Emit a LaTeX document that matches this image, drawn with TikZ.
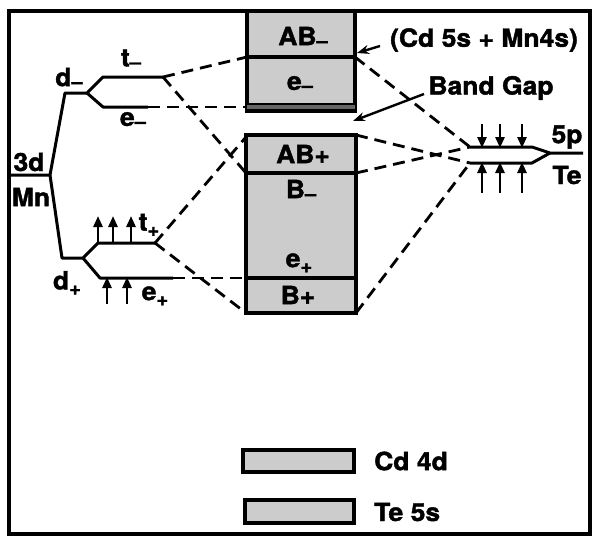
\documentclass[tikz,border=0pt]{standalone}
\usepackage{fontspec}
\setmainfont{TeX Gyre Heros}[FakeStretch=1.06,FakeBold=1.6]
\usetikzlibrary{arrows.meta}
\newcommand\lowsub[1]{\raisebox{-0.22em}{\fontsize{19}{19}\selectfont #1}}
\newcommand\lowmin{\raisebox{-0.08em}{\fontsize{19}{19}\selectfont –}}
\begin{document}
\begin{tikzpicture}[x=1pt,y=-1pt,
  lvl/.style={line width=3pt, line join=round},
  dsh/.style={line width=2.8pt, dash pattern=on 12pt off 7pt},
  band/.style={draw, line width=3.4pt, fill=black!20},
  lbl/.style={font=\fontsize{25}{27}\selectfont\bfseries, inner sep=1pt},
  spin/.style={line width=2.6pt, -{Triangle[length=11pt,width=9pt]}},
  ptr/.style={line width=2.4pt, -{Stealth[length=12pt,width=9pt]}}]
\useasboundingbox (0,0) rectangle (595,536);
\draw[line width=3.4pt] (9,11) rectangle (590,534);
% bands
\draw[band] (247,11) rectangle (355,111);
\fill[black!60] (247,104) rectangle (355,111);
\draw[line width=3.4pt] (247,111) -- (355,111);
\draw[line width=2.4pt] (247,104) -- (355,104);
\draw[line width=3.4pt] (247,57) -- (355,57);
\draw[band] (246,135) rectangle (356,313);
\draw[line width=3.4pt] (246,173) -- (356,173);
\draw[line width=3.4pt] (246,278) -- (356,278);
% band coordinates
\coordinate (ulA) at (247,57);  \coordinate (urA) at (355,57);
\coordinate (ulB) at (247,107);
\coordinate (lTopL) at (246,137); \coordinate (lTopR) at (356,135);
\coordinate (lMidL) at (246,173); \coordinate (lMidR) at (356,173);
\coordinate (lEL) at (246,278);
\coordinate (lBotL) at (246,313); \coordinate (lBotR) at (356,313);
% band labels
\node[lbl] (tAB1) at (303,37) {AB\lowmin};
\node[lbl] (te1) at (300,84) {e\lowmin};
\node[lbl] (tAB2) at (303,154) {AB+};
\node[lbl] (tB1) at (301,190) {B\lowmin};
\node[lbl] (te2) at (299,263) {e\lowsub{+}};
\node[lbl] (tB2) at (298,295) {B+};
% Mn levels
\coordinate (mnL) at (10,175); \coordinate (mnR) at (50,175);
\coordinate (dmL) at (65,93); \coordinate (dmR) at (87,93);
\coordinate (dpL) at (62,258); \coordinate (dpR) at (83,258);
\coordinate (tmL) at (103,77); \coordinate (tmR) at (163,77);
\coordinate (emL) at (103,107); \coordinate (emR) at (148,107);
\coordinate (tpL) at (98,243); \coordinate (tpR) at (155,243);
\coordinate (epL) at (100,278); \coordinate (epR) at (173,278);
\draw[lvl] (mnL) -- (mnR) -- (dmL) -- (dmR) -- (tmL) -- (tmR);
\draw[lvl] (dmR) -- (emL) -- (emR);
\draw[lvl] (mnR) -- (dpL) -- (dpR) -- (tpL) -- (tpR);
\draw[lvl] (dpR) -- (epL) -- (epR);
\node[lbl] (l3d) at (29,162) {3d};
\node[lbl] (lMn) at (31,197) {Mn};
\node[lbl] (ldm) at (69,78) {d\lowmin};
\node[lbl] (ltm) at (131,59) {t\lowmin};
\node[lbl] (lem) at (133,120) {e\lowmin};
\node[lbl] (ldp) at (67,283) {d\lowsub{+}};
\node[lbl] (ltp) at (149,225) {t\lowsub{+}};
\node[lbl] (lep) at (155,296) {e\lowsub{+}};
% spins on t+ and e+
\foreach \x/\n in {98/a,113/b,131/c}{\coordinate (s\n0) at (\x,243); \coordinate (s\n1) at (\x,216); \draw[spin] (s\n0) -- (s\n1);}
\foreach \x/\n in {107/d,127/e}{\coordinate (s\n0) at (\x,304); \coordinate (s\n1) at (\x,277); \draw[spin] (s\n0) -- (s\n1);}
% Te levels
\coordinate (uL) at (470,147); \coordinate (uR) at (532,147);
\coordinate (wL) at (470,163); \coordinate (wR) at (532,163);
\coordinate (tJ) at (550,153); \coordinate (tE) at (583,153);
\draw[lvl] (uL) -- (uR) -- (tJ) -- (tE);
\draw[lvl] (wL) -- (wR) -- (tJ);
\foreach \x/\n in {482/f,500/g,522/h}{\coordinate (s\n0) at (\x,124); \coordinate (s\n1) at (\x,148); \draw[spin] (s\n0) -- (s\n1);}
\foreach \x/\n in {482/i,500/j,522/k}{\coordinate (s\n0) at (\x,193); \coordinate (s\n1) at (\x,162); \draw[spin] (s\n0) -- (s\n1);}
\node[lbl] (l5p) at (567,137) {5p};
\node[lbl] (lTe) at (567,175) {Te};
% dashed correlations
\draw[dsh] (tmR) -- (ulA);
\draw[dsh] (tmR) -- (lMidL);
\draw[dsh] (emR) -- (ulB);
\draw[dsh] (tpR) -- (lTopL);
\draw[dsh] (tpR) -- (lBotL);
\draw[dsh] (epR) -- (lEL);
\draw[dsh] (urA) -- (uL);
\draw[dsh] (lTopR) -- (wL);
\draw[dsh] (lMidR) -- (uL);
\draw[dsh] (lBotR) -- (wL);
% annotations
\node[lbl] (lCd) at (484,40) {(Cd 5s + Mn4s)};
\coordinate (aCd) at (380,46); \coordinate (aCdT) at (357,53);
\draw[ptr] (aCd) -- (aCdT);
\node[lbl] (lBG) at (491,88) {Band Gap};
\coordinate (aBG) at (424,94); \coordinate (aBGT) at (353,121);
\draw[ptr] (aBG) -- (aBGT);
% legend
\draw[band] (243,450) rectangle (354,472);
\draw[band] (245,500) rectangle (354,523);
\node[lbl, anchor=west] (lgCd) at (373,461) {Cd 4d};
\node[lbl, anchor=west] (lgTe) at (373,512) {Te 5s};
\end{tikzpicture}
\end{document}
